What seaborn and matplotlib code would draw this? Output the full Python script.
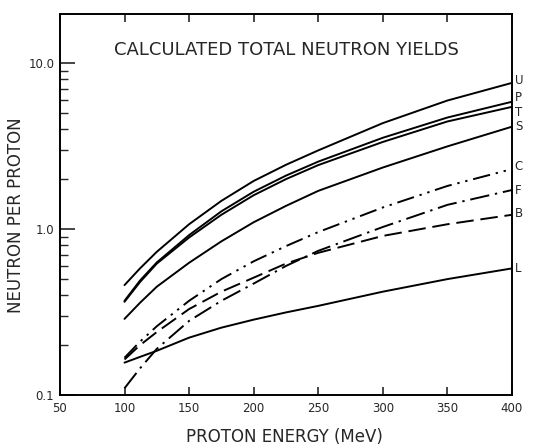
import matplotlib
matplotlib.use("Agg")
import matplotlib.pyplot as plt
import numpy as np
import pandas as pd
import seaborn as sns
from matplotlib.ticker import FixedLocator, LogLocator, NullFormatter, FixedFormatter

# Proton energy grid (MeV)
energy = [100, 112, 125, 150, 175, 200, 225, 250, 300, 350, 400]

# Calculated total neutron yield (neutrons per proton) for each target
yield_U = [0.46, 0.58, 0.73, 1.07, 1.48, 1.95, 2.44, 2.98, 4.35, 5.95, 7.60]
yield_P = [0.37, 0.49, 0.63, 0.92, 1.28, 1.68, 2.10, 2.55, 3.55, 4.70, 5.85]
yield_T = [0.365, 0.48, 0.62, 0.89, 1.22, 1.60, 2.00, 2.43, 3.35, 4.45, 5.45]
yield_S = [0.288, 0.36, 0.45, 0.627, 0.844, 1.10, 1.38, 1.70, 2.35, 3.15, 4.14]
yield_C = [0.168, 0.21, 0.26, 0.37, 0.50, 0.64, 0.79, 0.96, 1.35, 1.82, 2.30]
yield_F = [0.11, 0.145, 0.19, 0.28, 0.37, 0.47, 0.60, 0.74, 1.03, 1.40, 1.72]
yield_B = [0.164, 0.20, 0.24, 0.33, 0.42, 0.51, 0.62, 0.72, 0.91, 1.07, 1.22]
yield_L = [0.157, 0.17, 0.185, 0.222, 0.255, 0.285, 0.315, 0.345, 0.42, 0.50, 0.58]

targets = ["U", "P", "T", "S", "C", "F", "B", "L"]
series = [yield_U, yield_P, yield_T, yield_S, yield_C, yield_F, yield_B, yield_L]

x_ticks = [50, 100, 150, 200, 250, 300, 350, 400]
y_ticks = [0.1, 1.0, 10.0]
y_tick_labels = ["0.1", "1.0", "10.0"]

df = pd.DataFrame({
    "energy": np.tile(energy, len(targets)),
    "yield": np.concatenate(series),
    "target": np.repeat(targets, len(energy)),
})

sns.set_style("white")
plt.rcParams["font.family"] = ["DejaVu Sans"]

dashes = {
    "U": "", "P": "", "T": "", "S": "", "L": "",
    "C": (9, 3, 1.2, 3, 1.2, 3),
    "F": (10, 3, 1.2, 3),
    "B": (9, 3.5),
}

fig = plt.figure(figsize=(5.35, 4.46), dpi=100)
ax = fig.add_axes([0.112, 0.114, 0.845, 0.855])

sns.lineplot(data=df, x="energy", y="yield", hue="target", style="target",
             palette={t: "black" for t in targets}, dashes=dashes,
             linewidth=1.4, legend=False, ax=ax)

ax.set_yscale("log")
ax.set_xlim(50, 400)
ax.set_ylim(0.1, 19.8)

ax.xaxis.set_major_locator(FixedLocator(x_ticks))
ax.set_xticklabels([str(v) for v in x_ticks])
ax.yaxis.set_major_locator(FixedLocator(y_ticks))
ax.yaxis.set_major_formatter(FixedFormatter(y_tick_labels))
ax.yaxis.set_minor_locator(LogLocator(base=10, subs=np.arange(2, 10)))
ax.yaxis.set_minor_formatter(NullFormatter())

ax.tick_params(axis="x", which="major", direction="in", length=6, width=1.2,
               top=True, bottom=True, labelsize=8.5, pad=5)
ax.tick_params(axis="y", which="major", direction="in", length=11, width=1.2,
               left=True, right=False, labelsize=8.5, pad=4)
ax.tick_params(axis="y", which="minor", direction="in", length=6, width=1.0,
               left=True, right=False)

for sp in ax.spines.values():
    sp.set_color("black")
    sp.set_linewidth(1.4)

ax.set_xlabel("PROTON ENERGY (MeV)", fontsize=12)
ax.set_ylabel("NEUTRON PER PROTON", fontsize=12)
ax.xaxis.set_label_coords(0.496, -0.085)
ax.yaxis.set_label_coords(-0.078, 0.472)

ax.text(0.5, 0.905, "CALCULATED TOTAL NEUTRON YIELDS", transform=ax.transAxes,
        ha="center", va="center", fontsize=13)

# Target labels at the right-hand end of each curve
label_offsets = {"U": 2, "P": 3, "T": -4, "S": 0, "C": 2, "F": 0, "B": 1, "L": 0}
for t, vals in zip(targets, series):
    ax.annotate(t, xy=(energy[-1], vals[-1]), xytext=(2, label_offsets[t]),
                textcoords="offset points", ha="left", va="center",
                fontsize=8.5, annotation_clip=False)

fig.savefig("out.png", dpi=100)
